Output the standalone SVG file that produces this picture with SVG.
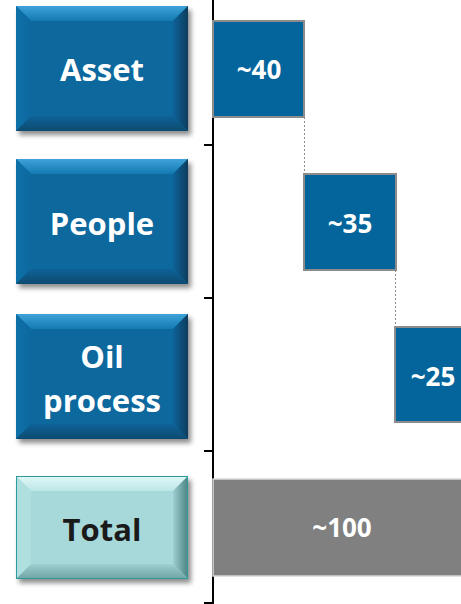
<svg xmlns="http://www.w3.org/2000/svg" width="461" height="604" viewBox="0 0 461 604">
  <defs>
    <filter id="shadow" x="-10%" y="-10%" width="125%" height="130%">
      <feDropShadow dx="3" dy="4" stdDeviation="2.5" flood-color="#000" flood-opacity="0.45"/>
    </filter>
    <linearGradient id="gTopB" x1="0" y1="0" x2="0" y2="1">
      <stop offset="0" stop-color="#3ea2d8"/>
      <stop offset="1" stop-color="#1479b2"/>
    </linearGradient>
    <linearGradient id="gRightB" x1="0" y1="0" x2="1" y2="0">
      <stop offset="0" stop-color="#07639a"/>
      <stop offset="1" stop-color="#083d5c"/>
    </linearGradient>
    <linearGradient id="gBotB" x1="0" y1="0" x2="0" y2="1">
      <stop offset="0" stop-color="#086298"/>
      <stop offset="1" stop-color="#0a4b70"/>
    </linearGradient>
    <linearGradient id="gLeftB" x1="0" y1="0" x2="1" y2="0">
      <stop offset="0" stop-color="#0f70a8"/>
      <stop offset="1" stop-color="#08699f"/>
    </linearGradient>
    <linearGradient id="gTopT" x1="0" y1="0" x2="0" y2="1">
      <stop offset="0" stop-color="#e2f8f8"/>
      <stop offset="1" stop-color="#bce6e7"/>
    </linearGradient>
    <linearGradient id="gRightT" x1="0" y1="0" x2="1" y2="0">
      <stop offset="0" stop-color="#9fcfd0"/>
      <stop offset="1" stop-color="#4a8384"/>
    </linearGradient>
    <linearGradient id="gBotT" x1="0" y1="0" x2="0" y2="1">
      <stop offset="0" stop-color="#9fcfd0"/>
      <stop offset="1" stop-color="#6fa3a4"/>
    </linearGradient>
  </defs>
  <style>
    .mainB { fill: #07679e; }
    .topB { fill: url(#gTopB); }
    .leftB { fill: url(#gLeftB); }
    .rightB { fill: url(#gRightB); }
    .botB { fill: url(#gBotB); }
    .mainT { fill: #a7d8da; }
    .topT { fill: url(#gTopT); }
    .leftT { fill: #b0dfe0; }
    .rightT { fill: url(#gRightT); }
    .botT { fill: url(#gBotT); }
    .lbl { font-family: "Open Sans", "Liberation Sans", sans-serif; font-weight: 700; font-size: 31px; text-anchor: middle; }
    .wl { fill: #ffffff; }
    .dl { fill: #1a1a1a; }
    .bar { fill: #03659b; stroke: #8c8c8c; stroke-width: 2; }
    .tbar { fill: #808080; stroke: #d9d9d9; stroke-width: 1.5; }
    .val { font-family: "Open Sans", "Liberation Sans", sans-serif; font-weight: 700; font-size: 26px; fill: #ffffff; text-anchor: middle; }
    .axis { stroke: #000; stroke-width: 2; fill: none; }
    .dot { stroke: #8c8c8c; stroke-width: 1; stroke-dasharray: 2 2; fill: none; }
  </style>

  <g id="axis">
    <line class="axis" x1="213" y1="0" x2="213" y2="604"/>
    <line class="axis" x1="204" y1="145" x2="213" y2="145"/>
    <line class="axis" x1="204" y1="298" x2="213" y2="298"/>
    <line class="axis" x1="204" y1="451" x2="213" y2="451"/>
    <line class="axis" x1="204" y1="603" x2="213" y2="603"/>
  </g>

  <g id="node-asset">
    <g filter="url(#shadow)">
      <rect class="mainB" x="16" y="6" width="172" height="125"/>
      <polygon class="topB" points="16,6 188,6 173,21 31,21"/>
      <polygon class="leftB" points="16,6 31,21 31,116 16,131"/>
      <polygon class="rightB" points="188,6 188,131 173,116 173,21"/>
      <polygon class="botB" points="16,131 31,116 173,116 188,131"/>
    </g>
    <text class="lbl wl" x="102" y="81">Asset</text>
  </g>

  <g id="node-people">
    <g filter="url(#shadow)">
      <rect class="mainB" x="16" y="159" width="172" height="125"/>
      <polygon class="topB" points="16,159 188,159 173,174 31,174"/>
      <polygon class="leftB" points="16,159 31,174 31,269 16,284"/>
      <polygon class="rightB" points="188,159 188,284 173,269 173,174"/>
      <polygon class="botB" points="16,284 31,269 173,269 188,284"/>
    </g>
    <text class="lbl wl" x="102" y="235">People</text>
  </g>

  <g id="node-oil">
    <g filter="url(#shadow)">
      <rect class="mainB" x="16" y="314" width="172" height="125"/>
      <polygon class="topB" points="16,314 188,314 173,329 31,329"/>
      <polygon class="leftB" points="16,314 31,329 31,424 16,439"/>
      <polygon class="rightB" points="188,314 188,439 173,424 173,329"/>
      <polygon class="botB" points="16,439 31,424 173,424 188,439"/>
    </g>
    <text class="lbl wl" x="102" y="368">Oil</text>
    <text class="lbl wl" x="102" y="412">process</text>
  </g>

  <g id="node-total">
    <g filter="url(#shadow)">
      <rect class="mainT" x="16" y="476" width="172" height="103"/>
      <polygon class="topT" points="16,476 188,476 173,491 31,491"/>
      <polygon class="leftT" points="16,476 31,491 31,564 16,579"/>
      <polygon class="rightT" points="188,476 188,579 173,564 173,491"/>
      <polygon class="botT" points="16,579 31,564 173,564 188,579"/>
      <rect x="16.5" y="476.5" width="171" height="102" fill="none" stroke="#2e9c9c" stroke-width="1"/>
    </g>
    <text class="lbl dl" x="102" y="541">Total</text>
  </g>

  <g id="connectors">
    <line class="dot" x1="304.5" y1="117" x2="304.5" y2="174"/>
    <line class="dot" x1="395.5" y1="270" x2="395.5" y2="327"/>
  </g>

  <g id="bar-asset">
    <rect class="bar" x="213" y="21" width="91" height="96"/>
    <text class="val" x="259" y="79">~40</text>
  </g>
  <g id="bar-people">
    <rect class="bar" x="304" y="174" width="92" height="96"/>
    <text class="val" x="350" y="233">~35</text>
  </g>
  <g id="bar-oil">
    <rect class="bar" x="395" y="327" width="80" height="95"/>
    <text class="val" x="433" y="386">~25</text>
  </g>
  <g id="bar-total">
    <rect class="tbar" x="213" y="479" width="260" height="97"/>
    <text class="val" x="342" y="537">~100</text>
  </g>
</svg>
